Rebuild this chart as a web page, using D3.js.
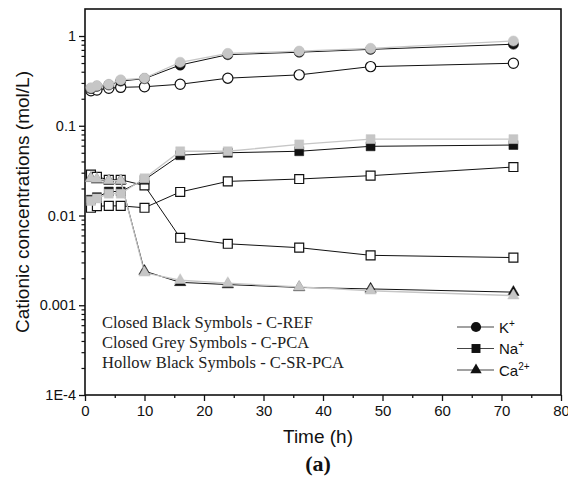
<!DOCTYPE html>
<html>
<head>
<meta charset="utf-8">
<script src="https://cdn.jsdelivr.net/npm/d3@7"></script>
<style>
  html, body { margin: 0; padding: 0; background: #fff; }
  svg { display: block; }
</style>
</head>
<body>
<svg id="chart" width="568" height="478"></svg>
<script>
// Sampling times (h)
const times = [1, 2, 4, 6, 10, 16, 24, 36, 48, 72];

// K+ concentrations (mol/L)
const kRef  = [0.26, 0.275, 0.285, 0.315, 0.335, 0.475, 0.62, 0.66, 0.71, 0.81];
const kPca  = [0.265, 0.28, 0.29, 0.325, 0.34, 0.51, 0.64, 0.68, 0.73, 0.88];
const kSr   = [0.245, 0.25, 0.262, 0.268, 0.272, 0.29, 0.339, 0.369, 0.456, 0.497];

// Na+ concentrations (mol/L)
const naRef = [0.015, 0.016, 0.0185, 0.0185, 0.025, 0.047, 0.05, 0.052, 0.059, 0.061];
const naPca = [0.0145, 0.0155, 0.0175, 0.0175, 0.026, 0.052, 0.052, 0.062, 0.071, 0.071];
const naSr  = [0.0122, 0.0127, 0.0128, 0.0128, 0.0122, 0.0183, 0.024, 0.0255, 0.0278, 0.0347];

// Ca2+ concentrations (mol/L)
const caRef = [0.026, 0.025, 0.0245, 0.0245, 0.0024, 0.0018, 0.0017, 0.00158, 0.00152, 0.0014];
const caPca = [0.026, 0.0255, 0.0245, 0.0245, 0.0023, 0.0019, 0.00176, 0.0016, 0.00145, 0.00128];
const caSr  = [0.0286, 0.027, 0.025, 0.025, 0.0216, 0.00565, 0.00484, 0.00438, 0.0036, 0.0034];

const xTicks = [0, 10, 20, 30, 40, 50, 60, 70, 80];
const yTicks = [1e-4, 1e-3, 1e-2, 1e-1, 1];
const yTickLabels = ["1E-4", "0.001", "0.01", "0.1", "1"];

const svg = d3.select("#chart");
const plot = { left: 85, right: 561, top: 9, bottom: 395 };

const x = d3.scaleLinear().domain([0, 80]).range([plot.left, plot.right]);
const y = d3.scaleLog().domain([1e-4, 2]).range([plot.bottom, plot.top]);

const BLACK = "#111";
const GREY = "#c6c6c6";

// Minor log ticks (2..9 of each decade)
const minorY = [];
for (let e = -4; e <= 0; e++) {
  for (let m = 2; m <= 9; m++) {
    const v = m * Math.pow(10, e);
    if (v <= 2 && !(m === 2 && e === 0)) minorY.push(v);
  }
}
const minorX = [5, 15, 25, 35, 45, 55, 65, 75];

const axisFont = "'Liberation Sans', Arial, sans-serif";

// X axis
const xAxis = d3.axisBottom(x).tickValues(xTicks).tickSize(6).tickSizeOuter(0).tickPadding(4);
const gx = svg.append("g").attr("transform", `translate(0,${plot.bottom})`).call(xAxis);
gx.select(".domain").remove();
gx.selectAll(".tick line").attr("stroke", BLACK).attr("stroke-width", 1.3);
gx.selectAll(".tick text").attr("font-family", axisFont).attr("font-size", 15).attr("fill", BLACK);
const gxm = d3.axisBottom(x).tickValues(minorX).tickSize(3).tickFormat("");
svg.append("g").attr("transform", `translate(0,${plot.bottom})`).call(gxm)
  .call(g => g.select(".domain").remove())
  .selectAll(".tick line").attr("stroke", BLACK).attr("stroke-width", 1.3);

// Y axis
const yAxis = d3.axisLeft(y).tickValues(yTicks).tickSize(6).tickPadding(3)
  .tickFormat((d, i) => yTickLabels[i]);
const gy = svg.append("g").attr("transform", `translate(${plot.left},0)`).call(yAxis);
gy.select(".domain").remove();
gy.selectAll(".tick line").attr("stroke", BLACK).attr("stroke-width", 1.3);
gy.selectAll(".tick text").attr("font-family", axisFont).attr("font-size", 14.5).attr("fill", BLACK);
const gym = d3.axisLeft(y).tickValues(minorY).tickSize(3.5).tickFormat("");
svg.append("g").attr("transform", `translate(${plot.left},0)`).call(gym)
  .call(g => g.select(".domain").remove())
  .selectAll(".tick line").attr("stroke", BLACK).attr("stroke-width", 1.2);

// Frame
svg.append("rect")
  .attr("x", plot.left).attr("y", plot.top)
  .attr("width", plot.right - plot.left).attr("height", plot.bottom - plot.top)
  .attr("fill", "none").attr("stroke", BLACK).attr("stroke-width", 1.6);

// Series
const circle = d3.symbol().type(d3.symbolCircle).size(82);
const square = d3.symbol().type(d3.symbolSquare).size(80);
const triangle = d3.symbol().type(d3.symbolTriangle).size(56);

const line = d3.line().x(d => x(d[0])).y(d => y(d[1]));

function drawSeries(values, shape, style) {
  const pts = times.map((t, i) => [t, values[i]]);
  const g = svg.append("g");
  g.append("path").datum(pts).attr("d", line)
    .attr("fill", "none").attr("stroke", style.line).attr("stroke-width", style.lineWidth);
  g.selectAll("path.m").data(pts).join("path").attr("class", "m")
    .attr("d", shape)
    .attr("transform", d => `translate(${x(d[0])},${y(d[1])})`)
    .attr("fill", style.fill)
    .attr("stroke", style.stroke)
    .attr("stroke-width", style.strokeWidth);
}

const hollow = { line: BLACK, lineWidth: 1, fill: "#fff", stroke: BLACK, strokeWidth: 1.2 };
const closedBlack = { line: BLACK, lineWidth: 1, fill: BLACK, stroke: BLACK, strokeWidth: 0.5 };
const closedGrey = { line: GREY, lineWidth: 1.3, fill: GREY, stroke: GREY, strokeWidth: 0.5 };

// Hollow (C-SR-PCA)
drawSeries(kSr, circle, hollow);
drawSeries(naSr, square, hollow);
drawSeries(caSr, square, hollow);
// Closed black (C-REF)
drawSeries(kRef, circle, closedBlack);
drawSeries(naRef, square, closedBlack);
drawSeries(caRef, triangle, closedBlack);
// Closed grey (C-PCA)
drawSeries(kPca, circle, closedGrey);
drawSeries(naPca, square, closedGrey);
drawSeries(caPca, triangle, closedGrey);

// Annotation block
const notes = ["Closed Black Symbols - C-REF", "Closed Grey Symbols - C-PCA", "Hollow Black Symbols - C-SR-PCA"];
svg.append("g").selectAll("text").data(notes).join("text")
  .attr("x", 102).attr("y", (d, i) => 328 + i * 20)
  .attr("font-family", "'Liberation Serif', 'Times New Roman', serif")
  .attr("font-size", 16.5).attr("fill", "#222")
  .text(d => d);

// Legend
const legendItems = [
  { shape: circle, base: "K", sup: "+" },
  { shape: square, base: "Na", sup: "+" },
  { shape: triangle, base: "Ca", sup: "2+" }
];
const lg = svg.append("g");
legendItems.forEach((it, i) => {
  const cy = 327 + i * 21.5;
  lg.append("line").attr("x1", 457).attr("x2", 494).attr("y1", cy).attr("y2", cy)
    .attr("stroke", "#444").attr("stroke-width", 1.2);
  lg.append("path").attr("d", it.shape).attr("transform", `translate(476,${cy})`)
    .attr("fill", BLACK);
  const t = lg.append("text").attr("x", 499).attr("y", cy + 5.5)
    .attr("font-family", axisFont).attr("font-size", 15).attr("fill", BLACK);
  t.append("tspan").text(it.base);
  t.append("tspan").attr("font-size", 10).attr("dy", -6).text(it.sup);
});

// Axis titles
svg.append("text")
  .attr("transform", `translate(29,${(plot.top + plot.bottom) / 2}) rotate(-90)`)
  .attr("text-anchor", "middle")
  .attr("font-family", axisFont).attr("font-size", 19).attr("fill", BLACK)
  .text("Cationic concentrations (mol/L)");

svg.append("text")
  .attr("x", 318).attr("y", 443).attr("text-anchor", "middle")
  .attr("font-family", axisFont).attr("font-size", 19).attr("fill", BLACK)
  .text("Time (h)");

svg.append("text")
  .attr("x", 318).attr("y", 471).attr("text-anchor", "middle")
  .attr("font-family", "'Liberation Serif', 'Times New Roman', serif")
  .attr("font-weight", "bold").attr("font-size", 22).attr("fill", BLACK)
  .text("(a)");
</script>
</body>
</html>
